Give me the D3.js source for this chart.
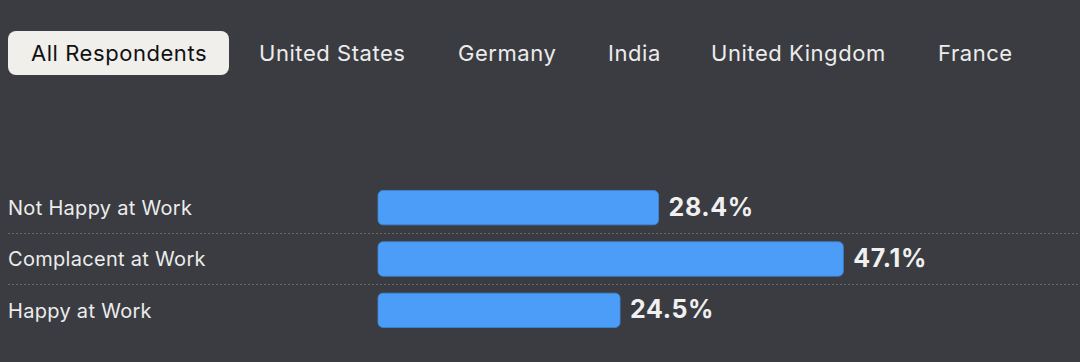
<!DOCTYPE html>
<html>
<head>
<meta charset="utf-8">
<script src="https://cdn.jsdelivr.net/npm/d3@7"></script>
<style>
html,body{margin:0;padding:0;background:#3a3c41;}
svg{display:block;}
</style>
</head>
<body>
<svg id="chart" width="1080" height="362"></svg>
<script>
const tabs = ["All Respondents","United States","Germany","India","United Kingdom","France"];
const activeTab = "All Respondents";
const categories = ["Not Happy at Work","Complacent at Work","Happy at Work"];
const values = [28.4, 47.1, 24.5];

const W = 1080, H = 362;
const svg = d3.select("#chart");
svg.append("rect").attr("width",W).attr("height",H).attr("fill","#3a3c41");

const font = "Inter, 'Helvetica Neue', Arial, sans-serif";

// Tabs
const tabX = [31, 259, 458, 608, 711, 938];
const tabG = svg.append("g");
tabs.forEach((t,i)=>{
  if (t === activeTab) {
    tabG.append("rect").attr("x",8).attr("y",31).attr("width",221).attr("height",44)
      .attr("rx",8).attr("fill","#f0efeb");
  }
  tabG.append("text").attr("x",tabX[i]).attr("y",61)
    .attr("font-family",font).attr("font-size",22).attr("letter-spacing","0.55px")
    .attr("fill", t===activeTab ? "#111" : "#ececec")
    .text(t);
});

// Bars
const x = d3.scaleLinear().domain([0,100]).range([378, 378+988]);
const y = d3.scaleBand().domain(categories).range([182, 336]).paddingInner(0.33).paddingOuter(0.165);

const g = svg.append("g");
// separators
categories.slice(1).forEach(c=>{
  const yy = y(c) - y.step()*y.paddingInner()/2 - 0.5;
  g.append("line").attr("x1",8).attr("x2",W).attr("y1",Math.round(yy)+0.5).attr("y2",Math.round(yy)+0.5)
    .attr("stroke","#64676c").attr("stroke-width",1).attr("stroke-dasharray","2,2");
});

g.selectAll("rect.bar").data(values).enter().append("rect")
  .attr("class","bar")
  .attr("x",x(0)).attr("y",(d,i)=>y(categories[i]))
  .attr("width",d=>x(d)-x(0)).attr("height",y.bandwidth())
  .attr("rx",5).attr("fill","#4c9df8").attr("stroke","#3d86d8").attr("stroke-width",0.8);

g.selectAll("text.cat").data(categories).enter().append("text")
  .attr("class","cat").attr("x",8).attr("y",d=>y(d)+y.bandwidth()/2)
  .attr("dy","0.36em").attr("font-family",font).attr("font-size",20).attr("letter-spacing","0.3px")
  .attr("fill","#ececec")
  .text(d=>d);

g.selectAll("text.val").data(values).enter().append("text")
  .attr("class","val").attr("x",d=>x(d)+10).attr("y",(d,i)=>y(categories[i])+y.bandwidth()/2-1)
  .attr("dy","0.36em").attr("font-family",font).attr("font-size",25).attr("font-weight",700)
  .attr("letter-spacing","0.6px")
  .attr("fill","#f0f0f0").text(d=>d.toFixed(1)+"%");
</script>
</body>
</html>
